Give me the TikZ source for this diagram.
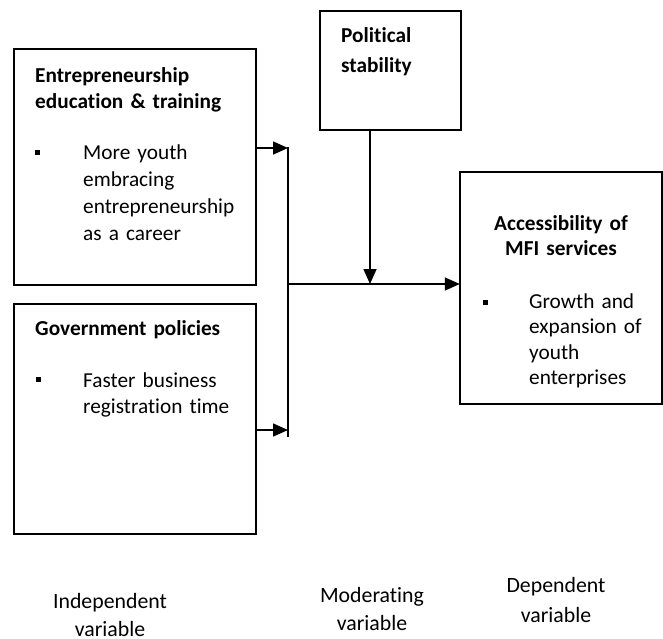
\documentclass[tikz,border=0pt]{standalone}
\usepackage{fontspec}
\setmainfont[Ligatures=NoCommon]{Carlito}
\usetikzlibrary{arrows.meta}
\begin{document}
\begin{tikzpicture}[x=1pt,y=-1pt,
  boxst/.style={draw,line width=1.6pt},
  conn/.style={line width=1.6pt},
  arr/.style={conn,-{Triangle[length=15pt,width=13pt]}},
  txt/.style={inner sep=0pt,anchor=base west,align=left},
  bul/.style={fill=black,inner sep=0pt,minimum size=5pt},
  lab/.style={inner sep=0pt,anchor=base,align=center,text width=160pt}]
\useasboundingbox (0,0) rectangle (663,638);
% boxes
\draw[boxst] (14,49) rectangle (256,285);
\node[inner sep=0pt] (ent) at (135,167) [minimum width=242pt,minimum height=236pt] {};
\draw[boxst] (14,304) rectangle (256,534);
\node[inner sep=0pt] (gov) at (135,419) [minimum width=242pt,minimum height=230pt] {};
\draw[boxst] (320,11) rectangle (461,130);
\node[inner sep=0pt] (pol) at (390.5,70.5) [minimum width=141pt,minimum height=119pt] {};
\draw[boxst] (460,172) rectangle (662,404);
\node[inner sep=0pt] (acc) at (561,288) [minimum width=202pt,minimum height=232pt] {};
% texts
\node[txt,text width=220pt,font=\fontsize{21.3}{26}\selectfont\bfseries] (t1) at (35,82) {Entrepreneurship\\education \& training};
\node[bul] (b1) at (37.5,152) {};
\node[txt,text width=170pt,font=\fontsize{21.3}{27}\selectfont] (t1b) at (83,159) {More youth\\embracing\\entrepreneurship\\as a career};
\node[txt,text width=220pt,font=\fontsize{21.3}{26}\selectfont\bfseries] (t2) at (35,335) {Government policies};
\node[bul] (b2) at (38,379) {};
\node[txt,text width=170pt,font=\fontsize{21.3}{26}\selectfont] (t2b) at (83,387) {Faster business\\registration time};
\node[txt,text width=120pt,font=\fontsize{21.3}{30}\selectfont\bfseries] (t3) at (341,42) {Political\\stability};
\node[inner sep=0pt,anchor=base,align=center,text width=195pt,font=\fontsize{21.3}{25}\selectfont\bfseries] (t4) at (561,230) {Accessibility of\\MFI services};
\node[bul] (b4) at (485,302) {};
\node[txt,text width=130pt,font=\fontsize{21.3}{25.5}\selectfont] (t4b) at (529,308) {Growth and\\expansion of\\youth\\enterprises};
% bottom labels
\node[lab,font=\fontsize{21.8}{28}\selectfont] (l1) at (110,608) {Independent\\variable};
\node[lab,font=\fontsize{21.8}{28}\selectfont] (l2) at (372,602) {Moderating\\variable};
\node[lab,font=\fontsize{21.8}{30}\selectfont] (l3) at (556,592) {Dependent\\variable};
% connectors
\coordinate (vtop) at (288,147);
\coordinate (vbot) at (288,437);
\coordinate (junc) at (288,284);
\coordinate (meet) at (370,284);
\draw[conn] (vtop) -- (vbot);
\draw[arr] (ent.east |- 0,148) -- (vtop |- 0,148);
\draw[arr] (gov.east |- 0,430) -- (vtop |- 0,430);
\draw[arr] (junc) -- (acc.west |- junc);
\draw[arr] (pol.south -| meet) -- (meet);
\end{tikzpicture}
\end{document}
